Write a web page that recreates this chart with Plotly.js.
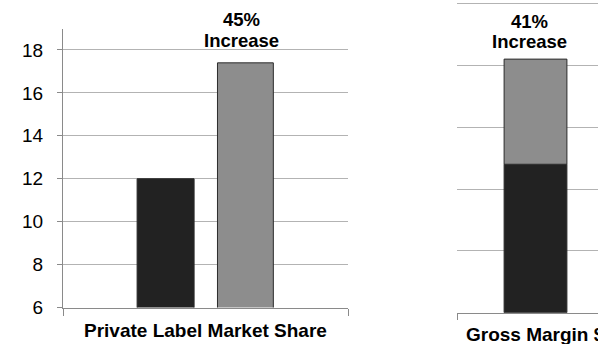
<!DOCTYPE html>
<html>
<head>
<meta charset="utf-8">
<script src="https://cdn.plot.ly/plotly-3.0.1.min.js"></script>
<style>html,body{margin:0;padding:0;background:#fff;}#chart{width:598px;height:344px;}</style>
</head>
<body>
<div id="chart"></div>
<script>
// ---- data ----
const shareCategories = ["Private Label Market Share"];
const shareBefore = [12];
const shareAfter = [17.4];
const shareTicks = [6, 8, 10, 12, 14, 16, 18];
const marginCategories = ["Gross Margin $"];
const marginBefore = [2.4];
const marginIncrease = [1.7];
const marginTicks = [0, 1, 2, 3, 4, 5];
const increaseLabels = ["45%", "41%"];
const increaseWord = "Increase";

const FONT = "Arial, 'Liberation Sans', sans-serif";
const darkFill = "#222222";
const grayFill = "#8d8d8d";
const edge = "#2b2b2b";
const gridCol = "#b3b3b3";
const axisCol = "#8a8a8a";

const traces = [
  {type: "bar", x: shareCategories, y: shareBefore, xaxis: "x", yaxis: "y",
   width: 0.2, offset: -0.24, marker: {color: darkFill, line: {color: edge, width: 1}}, hoverinfo: "y"},
  {type: "bar", x: shareCategories, y: shareAfter, xaxis: "x", yaxis: "y",
   width: 0.196, offset: 0.042, marker: {color: grayFill, line: {color: edge, width: 1}}, hoverinfo: "y"},
  {type: "bar", x: marginCategories, y: marginBefore, xaxis: "x2", yaxis: "y2",
   width: 0.4, offset: -0.2, marker: {color: darkFill, line: {color: edge, width: 1}}, hoverinfo: "y"},
  {type: "bar", x: marginCategories, y: marginIncrease, base: marginBefore, xaxis: "x2", yaxis: "y2",
   width: 0.4, offset: -0.2, marker: {color: grayFill, line: {color: edge, width: 1}}, hoverinfo: "y"}
];

const W = 598, H = 344;
const px = v => v / W;
const py = v => (H - v) / H;

const layout = {
  width: W, height: H,
  margin: {l: 0, r: 0, t: 0, b: 0, pad: 0},
  paper_bgcolor: "#ffffff", plot_bgcolor: "rgba(0,0,0,0)",
  showlegend: false,
  barmode: "group",
  font: {family: FONT, size: 19, color: "#000"},
  xaxis: {
    domain: [px(63), px(348)], type: "category", range: [-0.5, 0.5],
    showgrid: false, showline: true, linecolor: axisCol, linewidth: 1,
    ticks: "outside", tickson: "boundaries", ticklen: 7, tickcolor: axisCol,
    showticklabels: false, zeroline: false, fixedrange: true
  },
  yaxis: {
    domain: [py(307.5), py(28.5)], range: [6, 19],
    tickvals: shareTicks, ticktext: shareTicks.map(String),
    showgrid: true, gridcolor: gridCol, gridwidth: 1,
    showline: true, linecolor: axisCol, linewidth: 1,
    ticks: "outside", ticklen: 5, tickcolor: axisCol, ticklabelstandoff: 10,
    tickfont: {family: FONT, size: 19, color: "#000"},
    zeroline: false, fixedrange: true
  },
  xaxis2: {
    domain: [px(457), 1], type: "category", range: [-0.5, 0.398], anchor: "y2",
    showgrid: false, showline: true, linecolor: axisCol, linewidth: 1,
    ticks: "outside", tickson: "boundaries", ticklen: 6, tickcolor: axisCol,
    showticklabels: false, zeroline: false, fixedrange: true
  },
  yaxis2: {
    domain: [py(312.7), py(1.6)], range: [0, 5.03], anchor: "x2",
    tickvals: marginTicks, showticklabels: false,
    showgrid: true, gridcolor: gridCol, gridwidth: 1,
    showline: false, ticks: "", zeroline: false, fixedrange: true
  },
  annotations: [
    {text: shareCategories[0], xref: "paper", yref: "paper", x: px(205), y: py(330.5),
     xanchor: "center", yanchor: "middle", showarrow: false,
     font: {family: FONT, size: 19, weight: "bold", color: "#000"}},
    {text: marginCategories[0], xref: "paper", yref: "paper", x: px(535.5), y: py(334),
     xanchor: "center", yanchor: "middle", showarrow: false,
     font: {family: FONT, size: 19, weight: "bold", color: "#000"}},
    {text: increaseLabels[0], xref: "paper", yref: "paper", x: px(241.7), y: py(20),
     xanchor: "center", yanchor: "middle", showarrow: false,
     font: {family: FONT, size: 18.5, weight: "bold", color: "#000"}},
    {text: increaseWord, xref: "paper", yref: "paper", x: px(241.7), y: py(40.5),
     xanchor: "center", yanchor: "middle", showarrow: false,
     font: {family: FONT, size: 18.5, weight: "bold", color: "#000"}},
    {text: increaseLabels[1], xref: "paper", yref: "paper", x: px(529), y: py(21),
     xanchor: "center", yanchor: "middle", showarrow: false,
     font: {family: FONT, size: 18.5, weight: "bold", color: "#000"}},
    {text: increaseWord, xref: "paper", yref: "paper", x: px(529), y: py(41.5),
     xanchor: "center", yanchor: "middle", showarrow: false,
     font: {family: FONT, size: 18.5, weight: "bold", color: "#000"}}
  ]
};

Plotly.newPlot("chart", traces, layout, {staticPlot: true, displayModeBar: false});
</script>
</body>
</html>
